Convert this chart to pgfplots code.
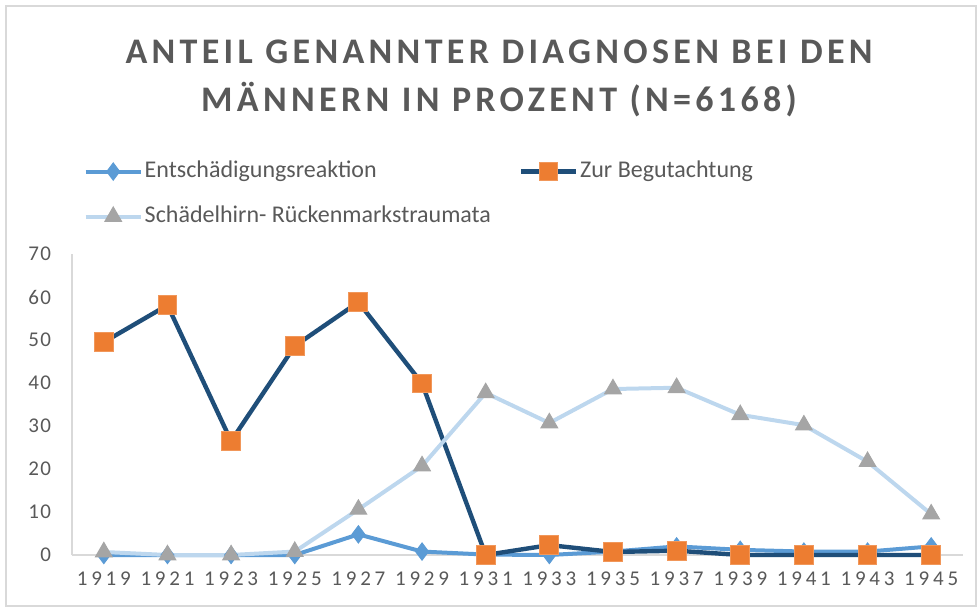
\documentclass[border=0pt]{standalone}
\usepackage{fontspec}
\setmainfont{Carlito}
\newfontfamily\titlefont[LetterSpace=12]{Carlito}
\newfontfamily\tickfont[LetterSpace=18]{Carlito}
\newfontfamily\ytickfont[LetterSpace=6]{Carlito}
\usepackage{pgfplots}
\pgfplotsset{compat=1.18}
\definecolor{cEnt}{HTML}{5B9BD5}
\definecolor{cZur}{HTML}{1F4E79}
\definecolor{cZurM}{HTML}{ED7D31}
\definecolor{cSch}{HTML}{BDD7EE}
\definecolor{cSchM}{HTML}{A5A5A5}
\definecolor{txt}{HTML}{595959}
\definecolor{axl}{HTML}{D9D9D9}
\begin{document}
\begin{tikzpicture}
\useasboundingbox (-36pt,-27.5pt) rectangle (453.5pt,277.5pt);
\draw[axl, line width=0.75pt] (-33pt,-25.5pt) rectangle (452pt,274.5pt);
\node[anchor=base, text=txt, font=\titlefont\bfseries\fontsize{18pt}{21pt}\selectfont] at (213.5pt,245.5pt) {ANTEIL GENANNTER DIAGNOSEN BEI DEN};
\node[anchor=base, text=txt, font=\titlefont\bfseries\fontsize{18pt}{21pt}\selectfont] at (213.5pt,221.5pt) {MÄNNERN IN PROZENT (N=6168)};
\begin{axis}[
  at={(0pt,0pt)}, anchor=south west,
  width=445.5pt, height=150.5pt, scale only axis,
  xmin=-0.5, xmax=13.5, ymin=0, ymax=70,
  xtick={0,...,13},
  xticklabels={1919,1921,1923,1925,1927,1929,1931,1933,1935,1937,1939,1941,1943,1945},
  ytick={0,10,...,70},
  axis x line*=bottom, axis y line*=left,
  axis line style={axl, line width=1pt, -},
  major tick length=0pt,
  /pgf/number format/assume math mode=true,
  x tick label style={font=\tickfont\fontsize{10.5pt}{12pt}\selectfont, text=txt, yshift=-5pt},
  y tick label style={font=\ytickfont\fontsize{10.5pt}{12pt}\selectfont, text=txt, xshift=-7pt},
  clip=false,
  legend columns=2,
  legend cell align=left,
  legend style={at={(0.006,1.33)}, anchor=north west, draw=none, fill=none,
    font=\fontsize{12pt}{14pt}\selectfont, text=txt,
    nodes={inner sep=1pt, text height=8pt, text depth=2.5pt},
    row sep=10pt, column sep=0pt},
  legend image code/.code={\draw[mark repeat=2,mark phase=2,#1] plot coordinates {(0pt,0pt) (13.75pt,0pt) (27.5pt,0pt)};},
]
\addplot[color=cEnt, line width=2pt, mark=diamond*, mark size=4.3pt, mark options={fill=cEnt, draw=cEnt, line width=0.5pt}]
 coordinates {(0,0) (1,0) (2,0) (3,0) (4,4.8) (5,0.8) (6,0.1) (7,0) (8,0.8) (9,2.0) (10,1.2) (11,0.8) (12,0.8) (13,2.0)};
\addlegendentry{\makebox[186pt][l]{Entschädigungsreaktion}}
\addplot[color=cZur, line width=2.2pt, mark=square*, mark size=4.7pt, mark options={fill=cZurM, draw=cZurM!80!white, line width=0.5pt}]
 coordinates {(0,49.5) (1,58.1) (2,26.5) (3,48.6) (4,58.8) (5,39.9) (6,0) (7,2.3) (8,0.7) (9,1.0) (10,0) (11,0) (12,0) (13,0)};
\addlegendentry{Zur Begutachtung}
\addplot[color=cSch, line width=2pt, mark=triangle*, mark size=4.8pt, mark options={fill=cSchM, draw=cSchM, line width=0.5pt}]
 coordinates {(0,0.7) (1,0) (2,0) (3,0.8) (4,10.6) (5,20.7) (6,37.7) (7,30.7) (8,38.6) (9,38.9) (10,32.6) (11,30.2) (12,21.7) (13,9.5)};
\addlegendentry{Schädelhirn- Rückenmarkstraumata}
\end{axis}
\end{tikzpicture}
\end{document}
